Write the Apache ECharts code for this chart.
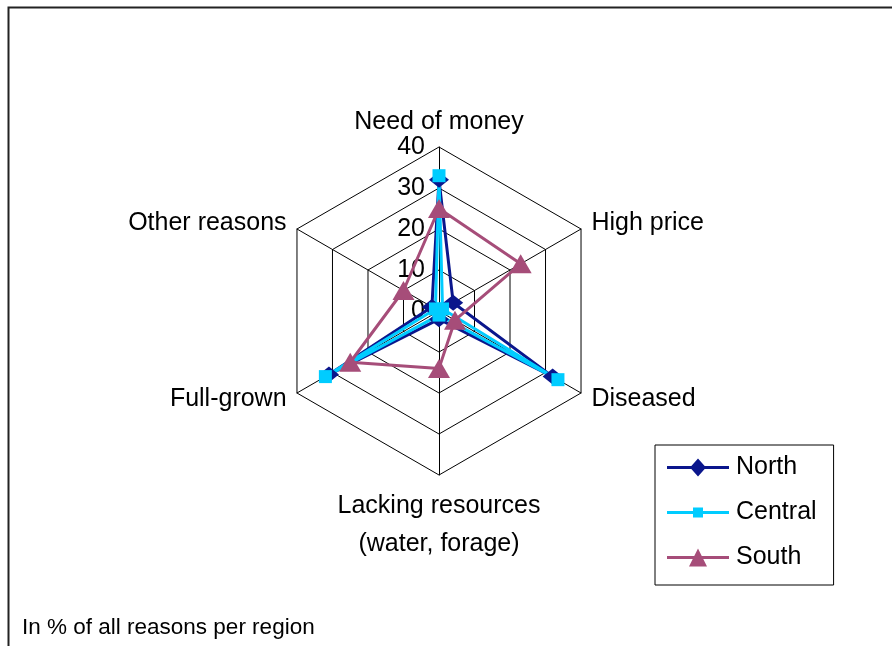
<!DOCTYPE html>
<html>
<head>
<meta charset="utf-8">
<script src="https://cdn.jsdelivr.net/npm/echarts@6/dist/echarts.min.js"></script>
<style>
  html, body { margin: 0; padding: 0; background: #fff; }
  #chart { width: 892px; height: 646px; }
</style>
</head>
<body>
<div id="chart"></div>
<script>
// indicators listed counter-clockwise from the top (ECharts radar order)
const indicators = ["Need of money", "Other reasons", "Full-grown", "Lacking resources\n(water, forage)", "Diseased", "High price"];
const axisMax = 40;

const north = [32, 2, 31, 2, 32, 4];
const central = [33, 1, 32, 1, 33.5, 1];
const south = [25, 10, 25, 14, 4.5, 23];

const chart = echarts.init(document.getElementById("chart"));

const font = "Liberation Sans, Arial, sans-serif";

chart.setOption({
  animation: false,
  textStyle: { fontFamily: font },
  graphic: [
    {
      type: "rect",
      shape: { x: 8.5, y: 7.5, width: 1000, height: 1000 },
      style: { fill: "none", stroke: "#222", lineWidth: 2 },
      silent: true,
    },
    {
      type: "text",
      left: 22,
      top: 616,
      style: { text: "In % of all reasons per region", fontSize: 22.5, fill: "#000", fontFamily: font },
    },
  ],
  legend: {
    orient: "vertical",
    left: 655,
    top: 445,
    padding: [10, 17, 15, 12],
    borderColor: "#000",
    borderWidth: 1,
    itemWidth: 62,
    itemHeight: 20,
    itemGap: 20,
    textStyle: { fontSize: 25, color: "#000", fontFamily: font, padding: [0, 0, 0, 2] },
    data: [
      {
        name: "North",
        icon: "path://M0,8.5 H62 V11.5 H0 Z M31,1 L39,10 L31,19 L23,10 Z",
      },
      {
        name: "Central",
        icon: "path://M0,8.5 H62 V11.5 H0 Z M26,5 H36 V15 H26 Z",
      },
      {
        name: "South",
        icon: "path://M0,8.5 H62 V11.5 H0 Z M31,1 L40,19 L22,19 Z",
      },
    ],
  },
  radar: {
    center: [439, 311],
    radius: 164,
    shape: "polygon",
    splitNumber: 4,
    nameGap: 12,
    axisName: {
      color: "#000",
      fontSize: 25,
      fontFamily: font,
      // two-line name gets wider line spacing
      formatter: (name) =>
        name.indexOf("\n") >= 0
          ? name.split("\n").map((s) => "{l|" + s + "}").join("\n")
          : name,
      rich: { l: { fontSize: 25, fontFamily: font, color: "#000", lineHeight: 38 } },
    },
    axisLine: { lineStyle: { color: "#000", width: 1 } },
    splitLine: { lineStyle: { color: "#000", width: 1 } },
    splitArea: { show: false },
    axisTick: { show: false },
    axisLabel: { show: false },
    indicator: indicators.map((name, i) => {
      const ind = { name: name, min: 0, max: axisMax };
      if (i === 0) {
        ind.axisLabel = { show: true, color: "#000", fontSize: 25, fontFamily: font, margin: 14 };
      }
      return ind;
    }),
  },
  series: [
    {
      type: "radar",
      data: [
        {
          name: "North",
          value: north,
          symbol: "diamond",
          symbolSize: [20, 16],
          lineStyle: { color: "#0a168c", width: 3 },
          itemStyle: { color: "#0a168c" },
        },
        {
          name: "Central",
          value: central,
          symbol: "rect",
          symbolSize: 13,
          lineStyle: { color: "#00ccff", width: 3 },
          itemStyle: { color: "#00ccff" },
        },
        {
          name: "South",
          value: south,
          symbol: "triangle",
          symbolSize: [22, 19],
          lineStyle: { color: "#a64d79", width: 3 },
          itemStyle: { color: "#a64d79" },
        },
      ],
    },
  ],
});
</script>
</body>
</html>
